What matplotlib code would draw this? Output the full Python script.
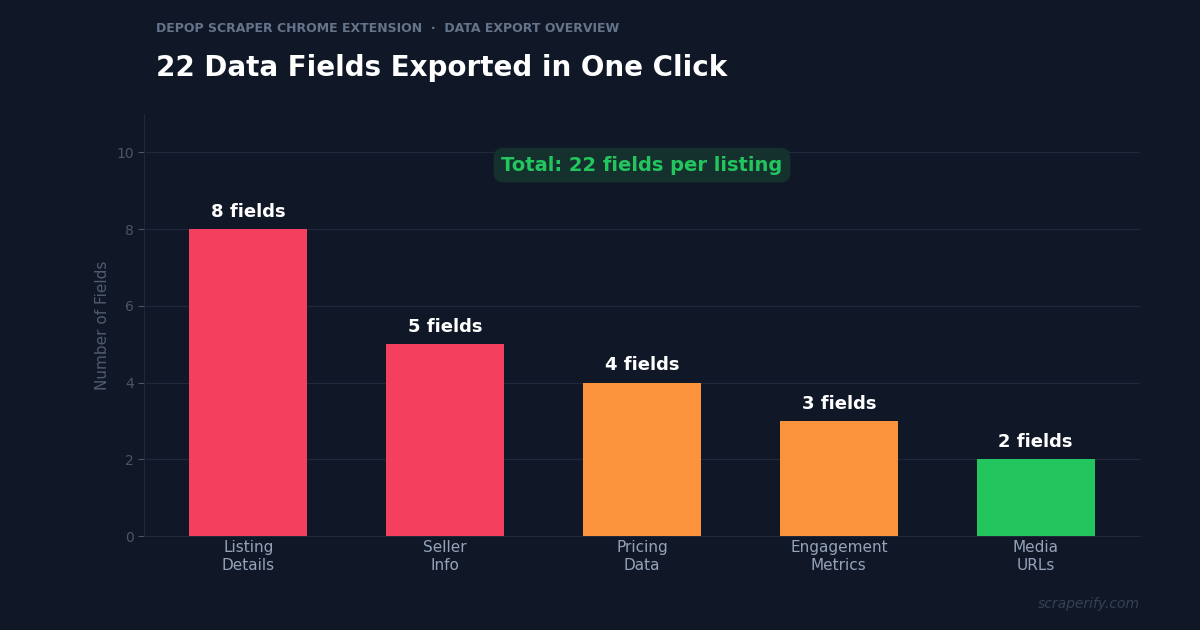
import matplotlib.pyplot as plt

# data
categories = ["Listing\nDetails", "Seller\nInfo", "Pricing\nData", "Engagement\nMetrics", "Media\nURLs"]
field_counts = [8, 5, 4, 3, 2]
bar_colors = ["#f43f5e", "#f43f5e", "#fb923c", "#fb923c", "#22c55e"]

bg = "#101828"

fig = plt.figure(figsize=(12, 6.3), dpi=100)
fig.patch.set_facecolor(bg)
ax = fig.add_axes([0.12, 0.149, 0.83, 0.67])
ax.set_facecolor(bg)

pos = range(len(categories))
ax.bar(pos, field_counts, width=0.6, color=bar_colors, zorder=3)

for x, v in zip(pos, field_counts):
    ax.text(x, v + 0.22, f"{v} fields", ha="center", va="bottom",
            fontsize=13, fontweight="bold", color="white", zorder=4)

ax.set_xlim(-0.53, 4.53)
ax.set_ylim(0, 11)
ax.set_yticks([0, 2, 4, 6, 8, 10])
ax.set_xticks(list(pos))
ax.set_xticklabels(categories, fontsize=11, color="#94a3b8")
ax.tick_params(axis="y", colors="#4b5563", labelsize=10, length=4)
ax.tick_params(axis="x", length=0, pad=3)
ax.set_ylabel("Number of Fields", color="#4f5b6e", fontsize=11)

ax.grid(axis="y", color="#1e293b", linewidth=0.8, zorder=0)
for s in ["top", "right"]:
    ax.spines[s].set_visible(False)
for s in ["left", "bottom"]:
    ax.spines[s].set_color("#1f2937")

ax.text(0.5, 0.879, "Total: 22 fields per listing", transform=ax.transAxes,
        ha="center", va="center", fontsize=14, fontweight="bold", color="#22c55e",
        bbox=dict(boxstyle="round,pad=0.4,rounding_size=0.5", facecolor="#14312e", edgecolor="none"))

fig.text(0.13, 0.955, "DEPOP SCRAPER CHROME EXTENSION  ·  DATA EXPORT OVERVIEW",
         fontsize=9, fontweight="bold", color="#64748b", va="center")
fig.text(0.13, 0.892, "22 Data Fields Exported in One Click",
         fontsize=20, fontweight="bold", color="white", va="center")
fig.text(0.95, 0.041, "scraperify.com", fontsize=10, style="italic",
         color="#334155", ha="right", va="center")

fig.savefig("out.png", dpi=100, facecolor=bg)
